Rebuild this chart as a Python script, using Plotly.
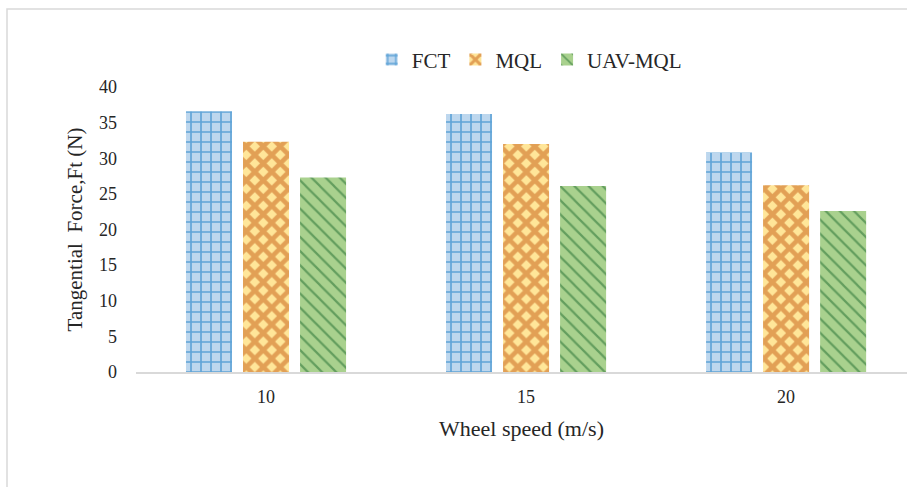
import plotly.graph_objects as go

# Wheel speed categories and measured tangential force for each lubrication method
speeds = ["10", "15", "20"]
fct = [36.6, 36.2, 30.8]
mql = [32.3, 32.0, 26.2]
uav_mql = [27.3, 26.1, 22.6]
y_ticks = [0, 5, 10, 15, 20, 25, 30, 35, 40]

serif = "Liberation Serif, Times New Roman, serif"
ink = "#262626"

fig = go.Figure()
fig.add_bar(
    name="FCT", x=speeds, y=fct,
    marker=dict(color="#BDD7EE", line=dict(width=0),
                pattern=dict(shape="+", fgcolor="#0070C0", bgcolor="#BDD7EE",
                             size=10, solidity=0.3)),
)
fig.add_bar(
    name="MQL", x=speeds, y=mql,
    marker=dict(color="#FFE699", line=dict(width=0),
                pattern=dict(shape="x", fgcolor="#C55A11", bgcolor="#FFE699",
                             size=12, solidity=0.62)),
)
fig.add_bar(
    name="UAV-MQL", x=speeds, y=uav_mql,
    marker=dict(color="#A9D18E", line=dict(width=0),
                pattern=dict(shape="\\", fgcolor="#1E6B2E", bgcolor="#A9D18E",
                             size=10, solidity=0.22)),
)

fig.update_layout(
    width=907, height=487,
    margin=dict(l=136, r=0, t=87, b=115),
    paper_bgcolor="white", plot_bgcolor="white",
    barmode="group", bargap=0.342, bargroupgap=0.193,
    font=dict(family=serif, color=ink, size=18),
    showlegend=True,
    legend=dict(orientation="h", x=0.51, y=1.095, xanchor="center", yanchor="middle",
                font=dict(size=21, color=ink, family=serif),
                itemwidth=30, tracegroupgap=0, bgcolor="rgba(0,0,0,0)"),
    shapes=[dict(type="rect", xref="paper", yref="paper",
                 x0=(7 - 136) / 771, x1=(930 - 136) / 771,
                 y0=-0.6, y1=(372 - 9) / 285,
                 line=dict(color="#D9D9D9", width=1.5), fillcolor="rgba(0,0,0,0)",
                 layer="below")],
)
fig.update_xaxes(
    type="category", range=[-0.5, 2.465],
    showline=True, linecolor="#D9D9D9", linewidth=1.5,
    showgrid=False, ticks="", ticklabelstandoff=8,
    tickfont=dict(size=18, color=ink),
    title=dict(text="Wheel speed (m/s)", font=dict(size=22, color=ink), standoff=14),
)
fig.update_yaxes(
    range=[0, 40], tickvals=y_ticks, showgrid=False, zeroline=False, showline=False,
    ticks="", ticklabelstandoff=18, tickfont=dict(size=18, color=ink),
    title=dict(text="Tangential  Force,Ft (N)", font=dict(size=21, color=ink), standoff=10),
)

fig.write_html("out.html")
